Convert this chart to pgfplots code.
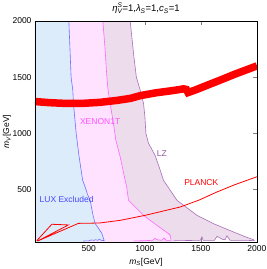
\documentclass[border=0pt]{standalone}
\usepackage{fontspec}
\setmainfont{Liberation Sans}
\usepackage{pgfplots}
\pgfplotsset{compat=1.18}
\definecolor{luxfill}{RGB}{221,236,251}
\definecolor{luxline}{RGB}{105,115,255}
\definecolor{xefill}{RGB}{255,226,255}
\definecolor{xeline}{RGB}{255,100,255}
\definecolor{lzfill}{RGB}{236,220,236}
\definecolor{lzline}{RGB}{170,110,185}
\definecolor{lzlab}{RGB}{150,80,165}
\definecolor{luxlab}{RGB}{70,70,255}
\newcommand\supsub[2]{\makebox[0pt][l]{\textsuperscript{#1}}\textsubscript{#2}}
\begin{document}
\begin{tikzpicture}
\path[use as bounding box] (-35pt,-27pt) rectangle (232pt,242pt);
\begin{axis}[
  at={(0pt,0pt)}, anchor=south west,
  scale only axis, width=222pt, height=221pt,
  xmin=20, xmax=2000, ymin=30, ymax=2000,
  xtick={500,1000,1500,1999.5}, xticklabels={500,1000,1500,2000},
  ytick={500,1000,1500,1999.5}, yticklabels={500,1000,1500,2000},
  tick align=inside,
  major tick length=3.5pt,
  ticklabel style={font=\fontsize{8.5}{10}\selectfont},
  title={{\itshape η}\supsub{\itshape S}{\itshape V}=1,{\itshape λ}\textsubscript{\itshape S}=1,{\itshape c}\textsubscript{\itshape S}=1},
  every axis title/.style={at={(axis description cs:0.5,1.042)}, anchor=base, font=\fontsize{9.5}{10}\selectfont},
  xlabel={{\itshape m}\textsubscript{\itshape S}[GeV]},
  ylabel={{\itshape m}\textsubscript{\itshape V}[GeV]},
  every axis x label/.style={at={(axis description cs:0.5,-0.09)}, anchor=center, font=\fontsize{8.5}{10}\selectfont},
  every axis y label/.style={at={(axis description cs:-0.126,0.5)}, anchor=center, rotate=90, font=\fontsize{8.5}{10}\selectfont},
]
% LZ fill
\addplot[fill=lzfill, draw=none] coordinates {
(20,2000)(869,2000)(900,1700)(924,1500)(958,1384)(988,1265)(1000,1150)(1009,1000)(1032,911)(1092,800)(1137,670)(1166,580)(1200,530)(1286,402)(1464,268)(1613,193)(1791,119)(1900,75)(1970,50)(1975,42)
(1900,45)(1760,45)(1732,85)(1715,50)(1690,55)(1643,80)(1620,45)(1520,45)(1509,75)(1495,45)(1300,42)(1250,40)(1250,30)(20,30)} -- cycle;
% XENON fill
\addplot[fill=xefill, draw=none] coordinates {
(20,2000)(625,2000)(645,1750)(661,1500)(672,1384)(690,1265)(720,1086)(741,938)(780,788)(824,580)(838,521)(854,402)(988,268)(1107,179)(1211,104)(1226,90)(1232,55)(1232,45)
(1190,45)(1170,65)(1150,45)(1110,50)(1090,62)(1070,45)(1000,42)(930,40)(900,40)(900,30)(20,30)} -- cycle;
% LUX fill
\addplot[fill=luxfill, draw=none] coordinates {
(20,2000)(322,2000)(342,1500)(357,1384)(363,1265)(387,1000)(412,800)(445,580)(467,521)(490,450)(512,402)(535,280)(556,196)(586,152)(616,107)(630,62)(637,42)
(610,45)(595,55)(580,45)(560,50)(545,45)(520,48)(500,40)(470,40)(450,38)(450,30)(20,30)} -- cycle;
% boundary lines
\addplot[draw=lzline, line width=0.6pt] coordinates {
(869,2000)(900,1700)(924,1500)(958,1384)(988,1265)(1000,1150)(1009,1000)(1032,911)(1092,800)(1137,670)(1166,580)(1200,530)(1286,402)(1464,268)(1613,193)(1791,119)(1900,75)(1970,50)(1975,42)
(1900,45)(1760,45)(1732,85)(1715,50)(1690,55)(1643,80)(1620,45)(1520,45)(1509,75)(1495,45)(1300,42)(1250,40)};
\addplot[draw=xeline, line width=0.6pt] coordinates {
(625,2000)(645,1750)(661,1500)(672,1384)(690,1265)(720,1086)(741,938)(780,788)(824,580)(838,521)(854,402)(988,268)(1107,179)(1211,104)(1226,90)(1232,55)(1232,45)
(1190,45)(1170,65)(1150,45)(1110,50)(1090,62)(1070,45)(1000,42)(930,40)(900,40)};
\addplot[draw=luxline, line width=0.6pt] coordinates {
(322,2000)(342,1500)(357,1384)(363,1265)(387,1000)(412,800)(445,580)(467,521)(490,450)(512,402)(535,280)(556,196)(586,152)(616,107)(630,62)(637,42)
(610,45)(595,55)(580,45)(560,50)(545,45)(520,48)(500,40)(470,40)(450,38)};
% PLANCK
\addplot[draw=red, line width=0.8pt] coordinates {
(36,42)(170,188)(318,182)(42,38)(407,196)(527,198)(601,200)(780,223)(1003,268)(1315,342)(1479,402)(1643,476)(1800,540)(2000,612)};
% thick band
\addplot[draw=red, line width=7.5pt, line join=miter] coordinates {
(20,1282)(150,1272)(300,1265)(450,1266)(600,1275)(750,1292)(870,1310)(960,1335)(1100,1360)(1250,1380)(1345,1395)(1370,1390)(1385,1362)(1450,1385)(1550,1425)(1672,1473)(1800,1525)(2000,1600)};
\node[font=\fontsize{8.5}{10}\selectfont, text=xeline!80!magenta] at (axis cs:601,1107) {XENON1T};
\node[font=\fontsize{8.5}{10}\selectfont, text=lzlab] at (axis cs:1152,821) {LZ};
\node[font=\fontsize{8.5}{10}\selectfont, text=red] at (axis cs:1503,556) {PLANCK};
\node[font=\fontsize{8.5}{10}\selectfont, text=luxlab] at (axis cs:302,411) {LUX Excluded};
\draw[black, line width=0.6pt] (rel axis cs:0,0) rectangle (rel axis cs:1,1);
\end{axis}
\end{tikzpicture}
\end{document}
